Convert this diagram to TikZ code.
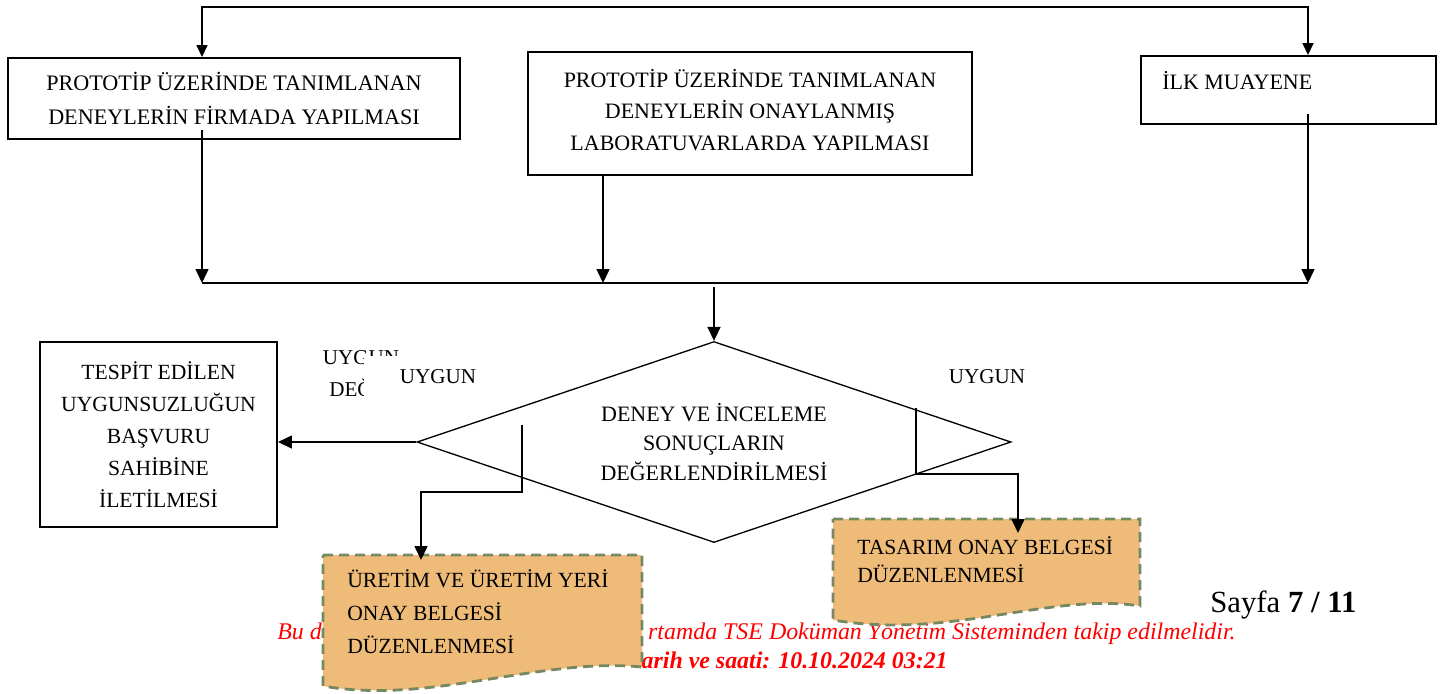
\documentclass[tikz,border=0pt]{standalone}
\usepackage{fontspec}
\setmainfont{Liberation Serif}
\usetikzlibrary{arrows.meta, positioning, shapes.geometric}
\definecolor{docfill}{RGB}{239,187,120}
\definecolor{docedge}{RGB}{118,136,98}

\begin{document}
\begin{tikzpicture}[x=0.2mm,y=-0.2mm,every node/.style={font=\fontsize{12.5}{18}\selectfont},
    box/.style={draw,line width=1.1pt,inner sep=0pt,align=center},
    lbl/.style={inner sep=0pt,align=center,font=\fontsize{12}{18.2}\selectfont},
    doctext/.style={inner ysep=0pt,inner xsep=4.8mm,align=left,font=\fontsize{12.3}{18.8}\selectfont},
    docshape/.style={fill=docfill,draw=docedge,line width=1.6pt,dash pattern=on 2mm off 1.2mm},
    foot/.style={inner sep=0pt,text=red,font=\fontsize{13.6}{16}\selectfont\itshape},
    arr/.style={-{Triangle[length=2.8mm,width=2.6mm]},line width=0.85pt}]
    \useasboundingbox (0,0) rectangle (1445,693);

    \node[foot,anchor=base west] (footA) at (277,639) {Bu de};
    \node[foot,anchor=base east] (footB) at (1236,639) {rtamda TSE Doküman Yönetim Sisteminden takip edilmelidir.};
    \node[foot,anchor=base east,font=\fontsize{13.6}{16}\selectfont\bfseries\itshape] (footC) at (948,668) {arih ve saati: 10.10.2024 03:21};

    \draw[docshape] (323,555) -- (642,555) -- (642,667) .. controls (540,657) and (430,705) .. (323,686) -- cycle;
    \coordinate (uretimTop) at (421,555);
    \draw[docshape] (833,519) -- (1140,519) -- (1140,606) .. controls (1050,592) and (950,640) .. (833,620) -- cycle;
    \coordinate (tasarimTop) at (1018,519);
    \node[doctext,anchor=west] (uretim) at (323,612) {ÜRETİM VE ÜRETİM YERİ\\ONAY BELGESİ\\DÜZENLENMESİ};
    \node[doctext,anchor=west,font=\fontsize{12.3}{16}\selectfont] (tasarim) at (833,560) {TASARIM ONAY BELGESİ\\DÜZENLENMESİ};

    \node[box,minimum width=90.4mm,minimum height=16.2mm,font=\fontsize{12.6}{19.3}\selectfont] (firma) at (234,98.5) {PROTOTİP ÜZERİNDE TANIMLANAN\\DENEYLERİN FİRMADA YAPILMASI};
    \node[box,minimum width=88.8mm,minimum height=24.6mm] (lab) at (750,113.5) {};
    \node[inner sep=0pt,align=center] (labT) at (750,110) {PROTOTİP ÜZERİNDE TANIMLANAN\\DENEYLERİN ONAYLANMIŞ\\LABORATUVARLARDA YAPILMASI};
    \node[box,minimum width=59mm,minimum height=13.6mm] (muayene) at (1288.5,90) {};
    \node[anchor=base west,inner sep=0pt] (muayeneT) at (1162,89) {İLK MUAYENE};
    \node[box,minimum width=47.4mm,minimum height=37mm,font=\fontsize{12.3}{18.2}\selectfont] (ilet) at (158.5,434.5) {TESPİT EDİLEN\\UYGUNSUZLUĞUN\\BAŞVURU\\SAHİBİNE\\İLETİLMESİ};

    \node[lbl,anchor=north] (degil) at (361,350) {UYGUN\\DEĞİL};
    \fill[white] (364,356) rectangle (490,405);
    \node[lbl] (uygunL) at (438,377) {UYGUN};
    \node[lbl] (uygunR) at (987,377) {UYGUN};

    \node[diamond,draw,line width=0.75pt,aspect=2.95,minimum width=118.8mm,minimum height=40.2mm,inner sep=0pt,align=center,font=\fontsize{12.5}{16.8}\selectfont] (deger) at (714,442) {DENEY VE İNCELEME\\SONUÇLARIN\\DEĞERLENDİRİLMESİ};

    \coordinate (topL) at (202,7);
    \coordinate (topR) at (1308,7);
    \coordinate (busL) at (202,283);
    \coordinate (busM) at (603,283);
    \coordinate (busR) at (1308,283);
    \draw[{Triangle[length=2.4mm,width=2.2mm]}-{Triangle[length=2.4mm,width=2.2mm]},line width=0.85pt] (busL |- firma.north) -- (topL) -- (topR) -- (busR |- muayene.north);
    \foreach \n/\b/\s in {firma/busL/2,lab/busM/0,muayene/busR/2.2} {
        \draw[arr] ([yshift=\s mm]\b |- \n.south) -- (\b);
    }
    \draw[line width=1.1pt] (busL) -- (busR);
    \draw[arr] ([yshift=-0.8mm]deger.north |- busM) -- (deger.north);
    \draw[arr] (deger.west) -- (deger.west -| ilet.east);

    \coordinate (brL) at (522,425);
    \coordinate (brR) at (916,408);
    \draw[arr] (brL) -- ++(0,67) -| ([yshift=-1mm]uretimTop);
    \draw[arr] (brR) -- ++(0,66) -| ([yshift=-2.8mm]tasarimTop);

    \node[anchor=base west,inner sep=0pt,font=\fontsize{17.5}{19}\selectfont] (sayfa) at (1210,612) {Sayfa \textbf{7 / 11}};
\end{tikzpicture}
\end{document}
